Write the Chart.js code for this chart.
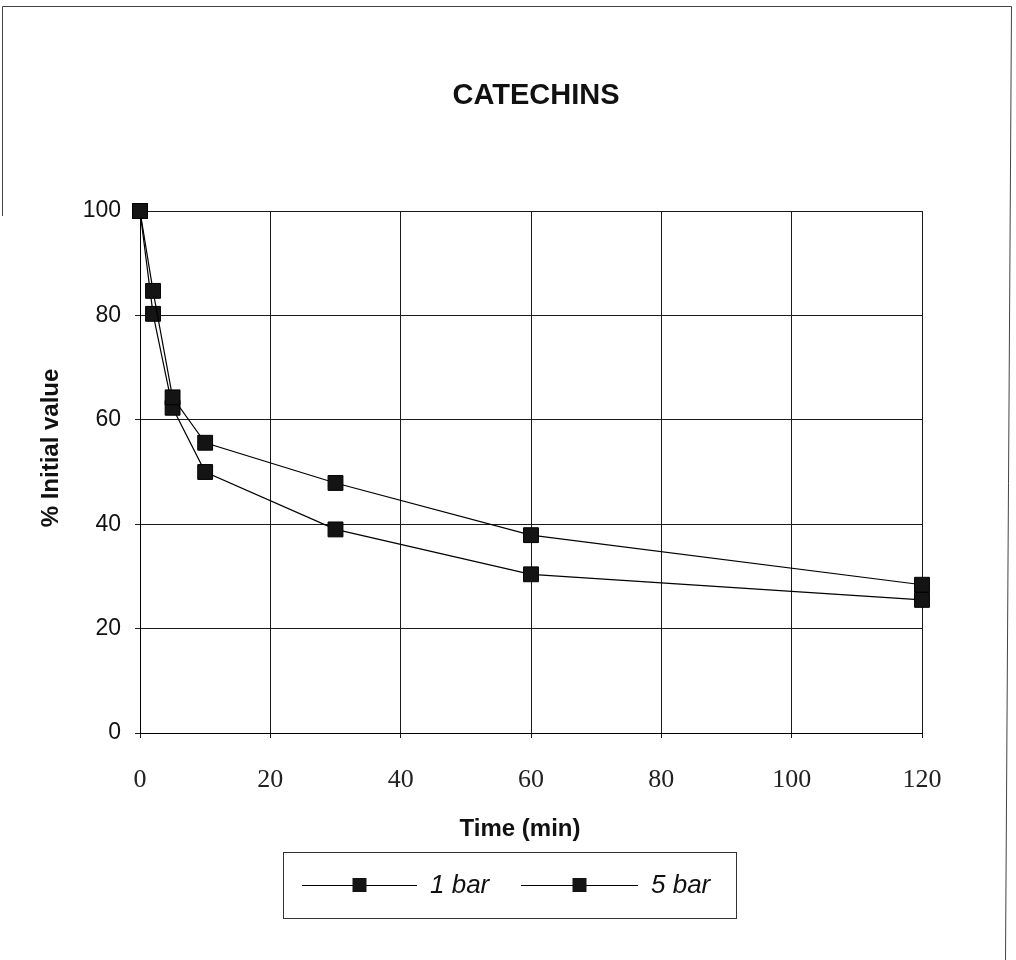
<!DOCTYPE html>
<html>
<head>
<meta charset="utf-8">
<title>CATECHINS</title>
<script src="https://cdn.jsdelivr.net/npm/chart.js@4.4.1/dist/chart.umd.min.js"></script>
<style>
  html, body { margin: 0; padding: 0; background: #ffffff; }
  #wrap { width: 1016px; height: 960px; position: relative; }
  canvas { display: block; }
</style>
</head>
<body>
<div id="wrap"><canvas id="chart" width="1016" height="960"></canvas></div>
<script>
// Text
const chartTitle = 'CATECHINS';
const xAxisTitle = 'Time (min)';
const yAxisTitle = '% Initial value';
const seriesLabels = ['1 bar', '5 bar'];

// Sampling times (min) and remaining catechins (% of initial value)
const timeMin = [0, 2, 5, 10, 30, 60, 120];
const oneBar = [100, 84.7, 64.3, 55.6, 47.9, 37.9, 28.4];
const fiveBar = [100, 80.3, 62.3, 50.0, 39.0, 30.4, 25.5];

// Axis ticks
const xTickValues = [0, 20, 40, 60, 80, 100, 120];
const yTickValues = [0, 20, 40, 60, 80, 100];

const toPoints = (xs, ys) => xs.map((x, i) => ({ x: x, y: ys[i] }));

const INK = '#111111';
const FONT_SANS = '"Liberation Sans", Arial, sans-serif';
const FONT_SERIF = '"Liberation Serif", "Times New Roman", serif';

// Page frame, titles and boxed legend
const decorPlugin = {
  id: 'decor',
  beforeDraw(chart) {
    const ctx = chart.ctx;
    ctx.save();
    ctx.fillStyle = '#ffffff';
    ctx.fillRect(0, 0, chart.width, chart.height);
    ctx.strokeStyle = '#444444';
    ctx.lineWidth = 1;
    ctx.beginPath();
    ctx.moveTo(2.5, 216);
    ctx.lineTo(2.5, 6.5);
    ctx.lineTo(1011.5, 6.5);
    ctx.lineTo(1005.5, 960);
    ctx.stroke();
    ctx.restore();
  },
  afterDraw(chart) {
    const ctx = chart.ctx;
    ctx.save();
    ctx.fillStyle = INK;
    ctx.textAlign = 'center';
    ctx.textBaseline = 'middle';

    // chart title
    ctx.font = 'bold 29px ' + FONT_SANS;
    ctx.fillText(chartTitle, 536, 96);

    // x axis title
    ctx.font = 'bold 24px ' + FONT_SANS;
    ctx.fillText(xAxisTitle, 520, 829);

    // y axis title
    ctx.save();
    ctx.translate(51, 448);
    ctx.rotate(-Math.PI / 2);
    ctx.font = 'bold 24px ' + FONT_SANS;
    ctx.fillText(yAxisTitle, 0, 0);
    ctx.restore();

    // legend box
    const box = { left: 283, top: 852, right: 736, bottom: 918 };
    ctx.strokeStyle = '#333333';
    ctx.lineWidth = 1;
    ctx.strokeRect(box.left + 0.5, box.top + 0.5, box.right - box.left, box.bottom - box.top);

    const cy = (box.top + box.bottom) / 2;
    const entries = [
      { x0: 302, x1: 417, text: 430 },
      { x0: 521, x1: 638, text: 651 }
    ];
    chart.data.datasets.forEach((ds, i) => {
      const e = entries[i];
      ctx.strokeStyle = ds.borderColor;
      ctx.lineWidth = 1;
      ctx.beginPath();
      ctx.moveTo(e.x0, Math.round(cy) + 0.5);
      ctx.lineTo(e.x1, Math.round(cy) + 0.5);
      ctx.stroke();
      const mx = (e.x0 + e.x1) / 2;
      const s = 14;
      ctx.fillStyle = ds.pointBackgroundColor;
      ctx.fillRect(mx - s / 2, cy - s / 2, s, s);
      ctx.fillStyle = INK;
      ctx.textAlign = 'left';
      ctx.font = 'italic 26px ' + FONT_SANS;
      ctx.fillText(ds.label, e.text, cy + 1);
    });
    ctx.restore();
  }
};

const ctx = document.getElementById('chart').getContext('2d');
new Chart(ctx, {
  type: 'scatter',
  data: {
    datasets: [
      {
        label: seriesLabels[0],
        data: toPoints(timeMin, oneBar),
        showLine: true,
        borderColor: '#000000',
        borderWidth: 1.2,
        pointStyle: 'rect',
        pointRadius: 10.5,
        pointHoverRadius: 10.5,
        pointBackgroundColor: '#141414',
        pointBorderColor: '#000000',
        pointBorderWidth: 1,
        tension: 0,
        clip: false
      },
      {
        label: seriesLabels[1],
        data: toPoints(timeMin, fiveBar),
        showLine: true,
        borderColor: '#000000',
        borderWidth: 1.2,
        pointStyle: 'rect',
        pointRadius: 10.5,
        pointHoverRadius: 10.5,
        pointBackgroundColor: '#141414',
        pointBorderColor: '#000000',
        pointBorderWidth: 1,
        tension: 0,
        clip: false
      }
    ]
  },
  options: {
    responsive: false,
    animation: false,
    events: [],
    layout: { padding: { top: 211, right: 94, bottom: 0, left: 0 } },
    plugins: {
      legend: { display: false },
      title: { display: false },
      tooltip: { enabled: false }
    },
    scales: {
      x: {
        type: 'linear',
        min: xTickValues[0],
        max: xTickValues[xTickValues.length - 1],
        afterBuildTicks(scale) {
          scale.ticks = xTickValues.map(v => ({ value: v }));
        },
        afterFit(scale) { scale.height = 960 - 733; },
        grid: { color: '#1a1a1a', lineWidth: 1, tickLength: 5, tickColor: '#1a1a1a' },
        border: { color: '#000000', width: 1 },
        ticks: {
          color: '#222222',
          padding: 27,
          maxRotation: 0,
          font: { family: FONT_SERIF, size: 26 }
        }
      },
      y: {
        type: 'linear',
        min: yTickValues[0],
        max: yTickValues[yTickValues.length - 1],
        afterBuildTicks(scale) {
          scale.ticks = yTickValues.map(v => ({ value: v }));
        },
        afterFit(scale) { scale.width = 140; },
        grid: { color: '#1a1a1a', lineWidth: 1, tickLength: 5, tickColor: '#1a1a1a' },
        border: { color: '#000000', width: 1 },
        ticks: {
          color: INK,
          padding: 14,
          font: { family: FONT_SANS, size: 23 }
        }
      }
    }
  },
  plugins: [decorPlugin]
});
</script>
</body>
</html>
